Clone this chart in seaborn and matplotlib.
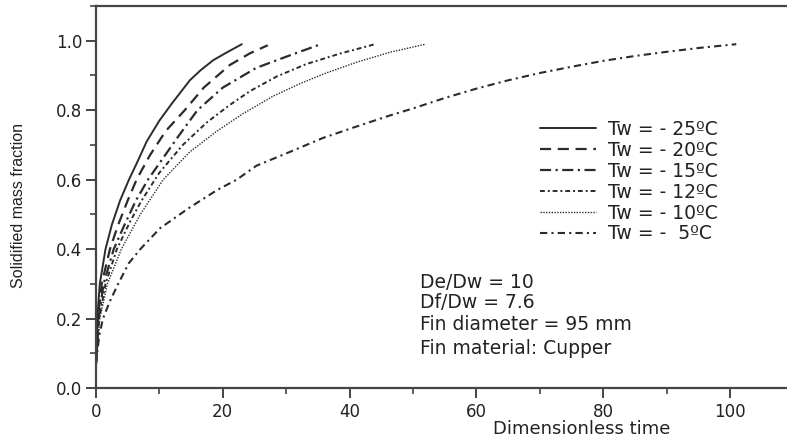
import numpy as np
import pandas as pd
import seaborn as sns
import matplotlib
matplotlib.use("Agg")
import matplotlib.pyplot as plt
from matplotlib.ticker import MultipleLocator

# ---- data ----
labels = ["Tw = - 25ºC", "Tw = - 20ºC", "Tw = - 15ºC",
          "Tw = - 12ºC", "Tw = - 10ºC", "Tw = -  5ºC"]

x25 = [0, 0.2, 0.6, 1.5, 2.5, 3.8, 5.2, 6.5, 8.0, 10.0, 12.0, 14.8, 16.5, 18.5, 20.5, 23.0]
y25 = [0.07, 0.20, 0.30, 0.40, 0.47, 0.54, 0.60, 0.65, 0.71, 0.77, 0.82, 0.886, 0.915, 0.944, 0.965, 0.99]

x20 = [0, 0.3, 0.9, 2.2, 3.5, 5.0, 6.4, 8.5, 11.0, 14.0, 17.0, 21.1, 24.3, 27.1]
y20 = [0.07, 0.20, 0.30, 0.40, 0.47, 0.54, 0.60, 0.67, 0.74, 0.80, 0.865, 0.93, 0.964, 0.987]

x15 = [0, 0.4, 1.2, 2.8, 4.5, 6.3, 8.2, 10.5, 13.0, 16.0, 20.0, 25.3, 30.6, 35.3]
y15 = [0.07, 0.20, 0.30, 0.40, 0.47, 0.54, 0.60, 0.66, 0.725, 0.80, 0.865, 0.922, 0.958, 0.989]

x12 = [0, 0.5, 1.5, 3.3, 5.4, 7.2, 10.0, 13.7, 17.5, 21.1, 24.3, 28.5, 33.2, 38.5, 44.0]
y12 = [0.07, 0.20, 0.30, 0.40, 0.48, 0.54, 0.62, 0.70, 0.765, 0.815, 0.855, 0.897, 0.933, 0.963, 0.99]

x10 = [0, 0.6, 1.8, 4.0, 7.0, 10.6, 14.8, 19.1, 23.2, 27.9, 32.0, 36.0, 41.1, 46.4, 52.0]
y10 = [0.07, 0.20, 0.30, 0.40, 0.50, 0.60, 0.68, 0.74, 0.79, 0.84, 0.875, 0.905, 0.938, 0.967, 0.99]

x05 = [0, 0.5, 1.1, 2.2, 3.5, 5.2, 7.0, 10.1, 14.8, 19.1, 22.2, 25.3, 30.6, 35.8, 41.1,
       46.4, 50, 55, 60, 65, 70, 75, 80, 85, 90, 95, 101]
y05 = [0.07, 0.15, 0.20, 0.25, 0.30, 0.36, 0.40, 0.46, 0.52, 0.57, 0.60, 0.64, 0.68, 0.72, 0.753,
       0.785, 0.805, 0.835, 0.862, 0.886, 0.907, 0.925, 0.942, 0.956, 0.968, 0.979, 0.99]

series_x = [x25, x20, x15, x12, x10, x05]
series_y = [y25, y20, y15, y12, y10, y05]

x_ticks = [0, 20, 40, 60, 80, 100]
y_ticks = [0.0, 0.2, 0.4, 0.6, 0.8, 1.0]

notes = ["De/Dw = 10", "Df/Dw = 7.6", "Fin diameter = 95 mm", "Fin material: Cupper"]

# ---- styling ----
sns.set_style("ticks")
plt.rcParams["font.family"] = ["DejaVu Sans"]

W, H = 787, 441
fig = plt.figure(figsize=(W / 100, H / 100), dpi=100)
ax_left, ax_bottom_px, ax_top_px = 96, 388, 6
ax_w = W - ax_left
ax_h = ax_bottom_px - ax_top_px
ax = fig.add_axes([ax_left / W, (H - ax_bottom_px) / H, ax_w / W, ax_h / H])

styles = [
    dict(linestyle="-", linewidth=1.4),
    dict(linestyle=(0, (5, 3)), linewidth=1.6),
    dict(linestyle=(0, (5, 2, 1, 2)), linewidth=1.6),
    dict(linestyle=(0, (2.5, 1.5, 1, 1.5)), linewidth=1.4),
    dict(linestyle=(0, (1, 1)), linewidth=1.0),
    dict(linestyle=(0, (3.5, 2, 1, 2)), linewidth=1.5),
]
line_color = "#2b2b2b"

for lab, xs, ys, st in zip(labels, series_x, series_y, styles):
    df = pd.DataFrame({"t": xs, "f": ys})
    sns.lineplot(data=df, x="t", y="f", ax=ax, color=line_color, label=lab,
                 sort=False, estimator=None, **st)

ax.set_xlim(0, 109)
ax.set_ylim(0, 1.1)
ax.set_xticks(x_ticks)
ax.set_yticks(y_ticks)
ax.set_xticklabels([str(v) for v in x_ticks])
ax.set_yticklabels([f"{v:.1f}" for v in y_ticks])
ax.xaxis.set_minor_locator(MultipleLocator(10))
ax.yaxis.set_minor_locator(MultipleLocator(0.1))

spine_col = "#444444"
for s in ["left", "bottom", "top"]:
    ax.spines[s].set_color(spine_col)
    ax.spines[s].set_linewidth(1.6)
ax.spines["right"].set_visible(False)

ax.tick_params(axis="both", which="major", direction="out", length=7, width=1.4,
               color=spine_col, labelsize=12, labelcolor="#222222")
ax.tick_params(axis="both", which="minor", direction="out", length=4, width=1.2, color=spine_col)
ax.tick_params(axis="x", which="major", pad=4)
ax.tick_params(axis="y", which="major", pad=3)

ax.set_xlabel("Dimensionless time", fontsize=13, color="#222222")
ax.xaxis.set_label_coords((582 - ax_left) / ax_w, -(420 - ax_bottom_px) / ax_h)
ax.set_ylabel("Solidified mass fraction", fontsize=11.5, color="#222222",
              family=["Liberation Sans", "DejaVu Sans"])
ax.yaxis.set_label_coords(-(ax_left - 26) / ax_w, (ax_bottom_px - 206) / ax_h)

leg = ax.legend(loc="upper left", bbox_to_anchor=(540 / W, 1 - 120 / H),
                bbox_transform=fig.transFigure, frameon=False, fontsize=13.5,
                handlelength=3.0, handletextpad=0.6, labelspacing=0.1,
                borderpad=0, borderaxespad=0)
for t in leg.get_texts():
    t.set_color("#222222")

note_y = [282, 303, 325, 348]
for txt, yc in zip(notes, note_y):
    ax.text((420 - ax_left) / ax_w, (ax_bottom_px - yc) / ax_h, txt,
            transform=ax.transAxes, ha="left", va="center", fontsize=13.5, color="#222222")

fig.savefig("out.png", dpi=100)
